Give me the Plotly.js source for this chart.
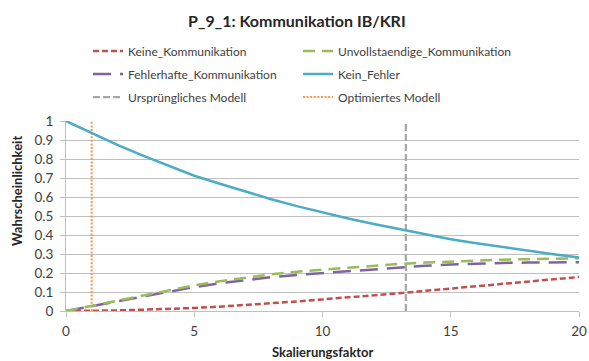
<!DOCTYPE html>
<html>
<head>
<meta charset="utf-8">
<script src="https://cdn.plot.ly/plotly-3.0.1.min.js"></script>
<style>html,body{margin:0;padding:0;background:#fff;}#chart{width:589px;height:361px;}</style>
</head>
<body>
<div id="chart"></div>
<script>
const xValues = [0,1,2,3,4,5,6,7,8,9,10,11,12,13,14,15,16,17,18,19,20];
const keineKommunikation = [0,0.001,0.003,0.007,0.011,0.016,0.023,0.031,0.040,0.050,0.061,0.071,0.082,0.094,0.106,0.118,0.130,0.142,0.154,0.166,0.179];
const unvollstaendigeKommunikation = [0,0.027,0.055,0.082,0.108,0.135,0.157,0.176,0.193,0.207,0.218,0.229,0.239,0.248,0.255,0.261,0.266,0.270,0.273,0.275,0.277];
const fehlerhafteKommunikation = [0,0.025,0.052,0.077,0.102,0.126,0.146,0.163,0.178,0.190,0.200,0.210,0.220,0.230,0.238,0.245,0.250,0.253,0.255,0.256,0.257];
const keinFehler = [1,0.935,0.874,0.818,0.765,0.712,0.670,0.628,0.588,0.552,0.518,0.487,0.458,0.430,0.405,0.378,0.357,0.337,0.317,0.299,0.282];
const urspruenglichesModell = 13.25;
const optimiertesModell = 1.0;
const seriesNames = ["Keine_Kommunikation","Unvollstaendige_Kommunikation","Fehlerhafte_Kommunikation","Kein_Fehler","Ursprüngliches Modell","Optimiertes Modell"];
const yTicks = [0,0.1,0.2,0.3,0.4,0.5,0.6,0.7,0.8,0.9,1];
const yTickText = ["0","0.1","0.2","0.3","0.4","0.5","0.6","0.7","0.8","0.9","1"];
const xTicks = [0,5,10,15,20];

const FONT = "Lato, 'Open Sans', sans-serif";
const COL1 = 165, COL2 = 215;
const traces = [
  {x:xValues, y:keineKommunikation, name:seriesNames[0], legend:"legend", legendwidth:COL1, mode:"lines", line:{color:"#C0504D", width:2.5, dash:"6px,3px"}},
  {x:xValues, y:unvollstaendigeKommunikation, name:seriesNames[1], legend:"legend", legendwidth:COL2, mode:"lines", line:{color:"#9BBB59", width:2.5, dash:"12px,7px"}},
  {x:xValues, y:fehlerhafteKommunikation, name:seriesNames[2], legend:"legend2", legendwidth:COL1, mode:"lines", line:{color:"#8064A2", width:2.5, dash:"18px,9px"}},
  {x:xValues, y:keinFehler, name:seriesNames[3], legend:"legend2", legendwidth:COL2, mode:"lines", line:{color:"#4BACC6", width:2.5}},
  {x:[urspruenglichesModell, urspruenglichesModell], y:[0,1], name:seriesNames[4], legend:"legend3", legendwidth:COL1, mode:"lines", line:{color:"#A6A6A6", width:2.2, dash:"7px,3px"}},
  {x:[optimiertesModell, optimiertesModell], y:[0,1], name:seriesNames[5], legend:"legend3", legendwidth:COL2, mode:"lines", line:{color:"#F79646", width:2, dash:"2px,1.6px"}}
];
const drawOrder = [4,5,0,2,1,3];
const data = drawOrder.map(i => traces[i]);

function leg(yv){
  return {orientation:"h", x:0.0429, xanchor:"left", y:yv, yanchor:"middle", entrywidthmode:"pixels",
          font:{size:12, color:"#404040", family:FONT}, itemwidth:30, bgcolor:"rgba(0,0,0,0)", traceorder:"normal"};
}

const layout = {
  width:589, height:361,
  margin:{l:66, r:10, t:121, b:50},
  paper_bgcolor:"#fff", plot_bgcolor:"#fff",
  font:{family:FONT, size:12, color:"#404040"},
  title:{text:"<b>P_9_1: Kommunikation IB/KRI</b>", x:0.504, xanchor:"center", y:0.942, yanchor:"middle", font:{size:16, color:"#262626", family:FONT}},
  showlegend:true,
  legend:leg(1.368), legend2:leg(1.247), legend3:leg(1.126),
  xaxis:{range:[0,20], tickvals:xTicks, ticks:"outside", ticklen:5, tickcolor:"#BFBFBF", showgrid:false,
         showline:true, linecolor:"#BFBFBF", linewidth:1, zeroline:false, tickfont:{size:13.5, color:"#404040", family:FONT},
         ticklabelstandoff:3, fixedrange:true},
  yaxis:{range:[0,1], tickvals:yTicks, ticktext:yTickText, ticks:"outside", ticklen:5, tickcolor:"#BFBFBF",
         showgrid:true, gridcolor:"#BFBFBF", gridwidth:1, showline:true, linecolor:"#BFBFBF", zeroline:false,
         tickfont:{size:13.5, color:"#404040", family:FONT}, ticklabelstandoff:4, fixedrange:true},
  annotations:[
    {text:"<b>Skalierungsfaktor</b>", xref:"paper", yref:"paper", x:0.5, y:-0.217, xanchor:"center", yanchor:"middle",
     showarrow:false, font:{size:13, color:"#262626", family:FONT}},
    {text:"<b>Wahrscheinlichkeit</b>", xref:"paper", yref:"paper", x:-0.094, y:0.63, xanchor:"center", yanchor:"middle",
     textangle:-90, showarrow:false, font:{size:13, color:"#262626", family:FONT}}
  ]
};
Plotly.newPlot("chart", data, layout, {displayModeBar:false, staticPlot:true});
</script>
</body>
</html>
